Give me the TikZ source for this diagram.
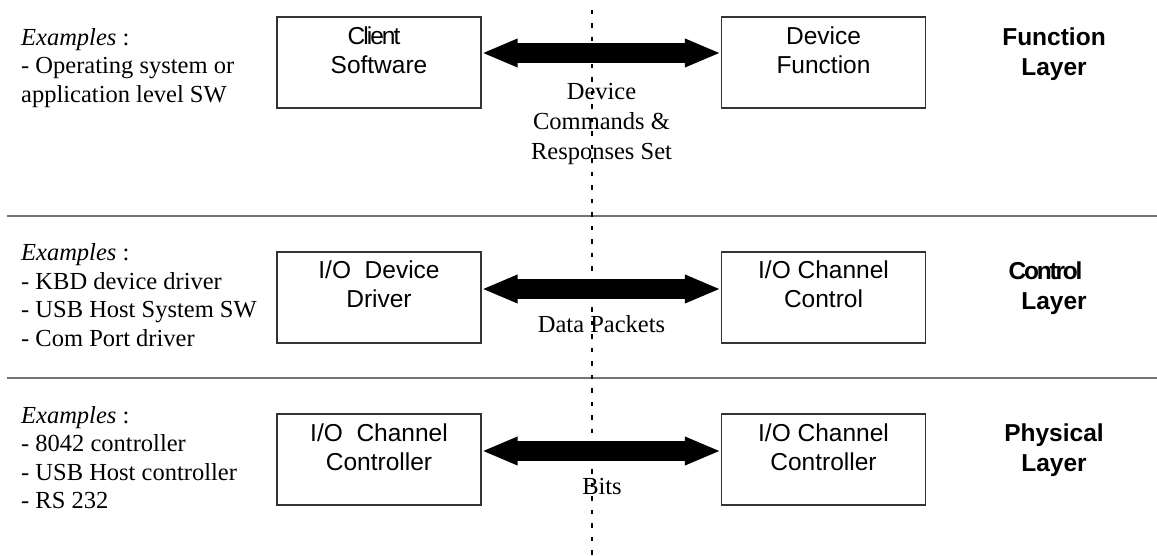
\documentclass[tikz,border=0pt]{standalone}
\usepackage{fontspec}
\setmainfont{Liberation Serif}
\setsansfont{Liberation Sans}
\usetikzlibrary{arrows.meta}

\begin{document}
\begin{tikzpicture}[x=1pt,y=-1pt,
  examples/.style={font=\fontsize{24.5}{28.5}\selectfont, inner sep=0pt, align=left, anchor=north west},
  msglabel/.style={font=\fontsize{24.5}{30}\selectfont, inner sep=0pt, align=center},
  unit/.style={draw=black!80, line width=1.2pt, minimum width=204pt, minimum height=91pt, inner sep=0pt},
  unittext/.style={font=\sffamily\fontsize{24.5}{29}\selectfont, inner sep=0pt, align=center, anchor=north},
  layername/.style={font=\sffamily\bfseries\fontsize{24.5}{30}\selectfont, inner sep=0pt, align=center, anchor=north},
  separator/.style={draw=black!55, line width=1.8pt},
  fatarrow/.style={line width=20pt,
    {Triangle[length=36pt,width=26pt]}-{Triangle[length=36pt,width=26pt]}},
  axisline/.style={line width=2pt, dash pattern=on 4.5pt off 9pt}
]
\useasboundingbox (0,0) rectangle (1157,556);

% layer separators
\coordinate (s1l) at (7,216);   \coordinate (s1r) at (1157,216);
\coordinate (s2l) at (7,378);   \coordinate (s2r) at (1157,378);
\draw[separator] (s1l) -- (s1r);
\draw[separator] (s2l) -- (s2r);

% examples per layer
\node[examples] (exf) at (21,28.3) {\textit{Examples} :\\- Operating system or\\application level SW};
\node[examples] (exc) at (21,243.8) {\textit{Examples} :\\- KBD device driver\\- USB Host System SW\\- Com Port driver};
\node[examples] (exp) at (21,406) {\textit{Examples} :\\- 8042 controller\\- USB Host controller\\- RS 232};

% function layer
\node[unit] (cs) at (379,62.5) {};
\node[unit] (df) at (823.5,62.5) {};
\node[unittext] (cst) at ([yshift=-10.4pt]cs.north) {{\addfontfeature{LetterSpace=-8}Client}\kern10pt\\Software};
\node[unittext] (dft) at ([yshift=-10.4pt]df.north) {Device\\Function};

% control layer
\node[unit] (dd) at (379,297.5) {};
\node[unit] (cc) at (823.5,297.5) {};
\node[unittext] (ddt) at ([yshift=-9.4pt]dd.north) {I/O\ \ Device\\Driver};
\node[unittext] (cct) at ([yshift=-9.4pt]cc.north) {I/O Channel\\Control};

% physical layer
\node[unit] (hl) at (379,459.5) {};
\node[unit] (hr) at (823.5,459.5) {};
\node[unittext] (hlt) at ([yshift=-10.4pt]hl.north) {I/O\ \ Channel\\Controller};
\node[unittext] (hrt) at ([yshift=-10.4pt]hr.north) {I/O Channel\\Controller};

% dotted divider between host and device side
\coordinate (dtop) at (592,10);
\coordinate (dbot) at (592,556);
\draw[axisline] (dtop) -- (dbot);

% exchanges
\draw[fatarrow] ([yshift=9.5pt]cs.east) -- ([yshift=9.5pt]df.west);
\draw[fatarrow] ([yshift=8.5pt]dd.east) -- ([yshift=8.5pt]cc.west);
\draw[fatarrow] ([yshift=8.5pt]hl.east) -- ([yshift=8.5pt]hr.west);

\node[msglabel, anchor=north] (m1) at (601.5,82.8) {Device\\Commands \&\\Responses Set};
\node[msglabel, anchor=base] (m2) at (601.5,332) {Data Packets};
\node[msglabel, anchor=base] (m3) at (602,494) {Bits};

% layer names
\node[layername] (lf) at (1054,27.4) {Function\\Layer};
\node[layername] (lc) at (1054,261.4) {{\addfontfeature{LetterSpace=-9}Control}\kern17pt\\Layer};
\node[layername] (lp) at (1054,423.4) {Physical\\Layer};
\end{tikzpicture}
\end{document}
